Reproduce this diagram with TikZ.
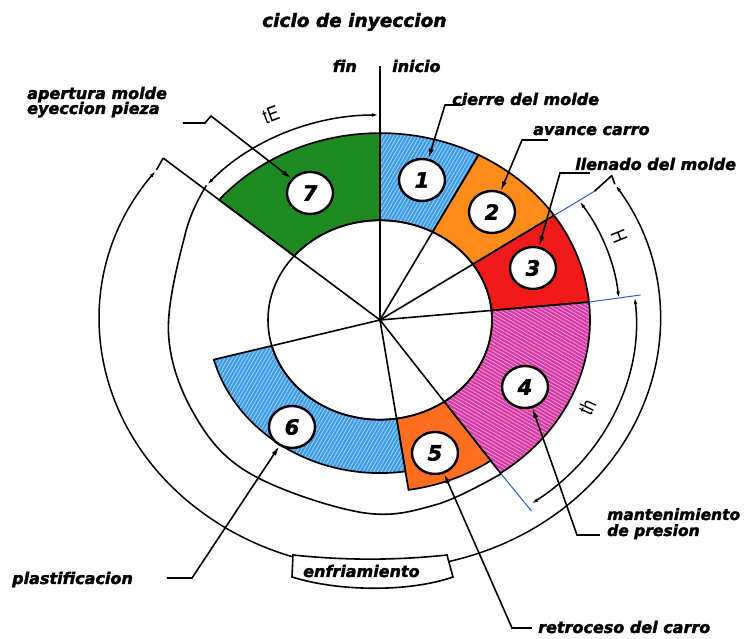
\documentclass[tikz,border=0pt]{standalone}
\usepackage{fontspec}
\usetikzlibrary{shapes.geometric,arrows.meta,patterns.meta}
\newfontfamily\lblfont{DejaVu Sans Bold Oblique}[FakeBold=2]
\newfontfamily\techfont{Liberation Sans}
\definecolor{cblue}{HTML}{3C9CEB}
\definecolor{cbluel}{HTML}{A4D3F7}
\definecolor{corange}{HTML}{FF8C1A}
\definecolor{corangeb}{HTML}{FF6F1F}
\definecolor{cred}{HTML}{F01A1A}
\definecolor{cpink}{HTML}{D43AA5}
\definecolor{cpinkl}{HTML}{F39AD6}
\definecolor{cgreen}{HTML}{1E8B22}
\definecolor{extblue}{HTML}{2A5BD7}
\newcommand\ringseg[5]{%
  \pgfmathsetmacro\ryA{0.89*#4}%
  \pgfmathsetmacro\ryB{0.89*#5}%
  \path[#1] ({#4*cos(#2)},{\ryA*sin(#2)}) arc[start angle=#2,end angle=#3,x radius=#4,y radius=\ryA]
    -- ({#5*cos(#3)},{\ryB*sin(#3)}) arc[start angle=#3,end angle=#2,x radius=#5,y radius=\ryB] -- cycle;}
\begin{document}
\begin{tikzpicture}[x=1pt,y=1pt,
  solidseg/.style={fill=#1,draw=black,line width=1.7pt},
  hatchblue/.style={preaction={fill=cblue},preaction={pattern={Lines[angle=60,distance=3.2pt,line width=0.8pt]},pattern color=cbluel},draw=black,line width=1.7pt},
  hatchpink/.style={preaction={fill=cpink},preaction={pattern={Lines[angle=-30,distance=3.2pt,line width=0.8pt]},pattern color=cpinkl},draw=black,line width=1.7pt},
  thinline/.style={line width=1.6pt},
  extline/.style={draw=extblue,line width=1pt},
  dimarc/.style={line width=1.5pt,{Latex[length=8pt,width=3.5pt]}-{Latex[length=8pt,width=3.5pt]}},
  leader/.style={line width=1.6pt,-{Latex[length=10pt,width=5pt]}},
  num/.style={ellipse,draw=black,line width=2.4pt,fill=white,minimum width=46pt,minimum height=42pt,inner sep=0pt,font=\lblfont\fontsize{21}{21}\selectfont},
  lbl/.style={inner sep=0pt,font=\lblfont\fontsize{16}{16}\selectfont},
  tech/.style={inner sep=0pt,font=\techfont\fontsize{21}{21}\selectfont}]
\useasboundingbox (-380,-319) rectangle (365,320);
% ring segments
\ringseg{hatchblue}{62}{90}{112}{210}
\ringseg{solidseg=corange}{34}{62}{112}{210}
\ringseg{solidseg=cred}{5.5}{34}{112}{210}
\ringseg{hatchpink}{-55}{5.5}{112}{210}
\ringseg{solidseg=corangeb}{-81.5}{-55}{112}{193}
\ringseg{hatchblue}{195}{278.5}{112}{172}
\ringseg{solidseg=cgreen}{90}{140}{112}{210}
% inner circle and radial lines
\draw[thinline] (0,0) ellipse[x radius=112,y radius=99.7];
\foreach \a in {62,34,5.5,-55,-81.5,195}
  \draw[thinline] (0,0) -- ({112*cos(\a)},{99.7*sin(\a)});
\coordinate (ctr) at (0,0);
\coordinate (topend) at (0,254);
\coordinate (apexL) at (-216.8,161.9);
\coordinate (apexR) at (231.8,144.5);
\draw[thinline] (ctr) -- (topend);
\draw[thinline] (ctr) -- (apexL);
% extension lines
\coordinate (e1a) at (174.1,104.5); \coordinate (e1b) at (214.7,128.9);
\coordinate (e2a) at (209.0,17.9);  \coordinate (e2b) at (260.5,25);
\coordinate (e3a) at (120.5,-153.1); \coordinate (e3b) at (151.5,-191.0);
\draw[extline] (e1a) -- (e1b);
\draw[extline] (e2a) -- (e2b);
\draw[extline] (e3a) -- (e3b);
\draw[thinline] (e1b) -- (apexR);
% circle B lower arc
\draw[thinline] plot[smooth,tension=0.6] coordinates {(121.0,-153.8) (55.6,-184.8) (-18.9,-192.4) (-130.0,-153.5) (-185.3,-95.2) (-211.5,-13.2) (-194.2,88.1) (-173.6,134.5)};
% dimension arcs
\draw[dimarc] (-173.6,134.5) arc[start angle=139,end angle=90,x radius=230,y radius=205];
\draw[dimarc] (199.0,119.4) arc[start angle=34,end angle=5.5,x radius=240,y radius=213.6];
\draw[dimarc] (254.6,23.8) arc[start angle=6,end angle=-54,x radius=256,y radius=227.8];
\draw[dimarc] (-223.6,150.0) arc[start angle=143,end angle=393,x radius=280,y radius=249.2];
\coordinate (oL) at (-223.6,150.0);
\coordinate (oR) at (234.8,135.7);
\draw[thinline] (apexL) -- (oL);
\draw[thinline] (apexR) -- (oR);
% enfriamiento box
\draw[line width=1.6pt,fill=white] (-87,-235) .. controls (-35,-240.5) and (15,-240.5) .. (67,-235)
  -- (73,-257) .. controls (30,-272) and (-40,-272) .. (-88,-257) -- cycle;
\node[lbl,anchor=base west] (enf) at (-77,-257) {enfriamiento};
% numbered circles
\node[num] (c1) at (42,140) {1};
\node[num] (c2) at (112,108) {2};
\node[num] (c3) at (153,52) {3};
\node[num] (c4) at (145,-67) {4};
\node[num] (c5) at (55,-133) {5};
\node[num] (c6) at (-88,-107) {6};
\node[num] (c7) at (-70,127) {7};
% leaders
\coordinate (l1a) at (65,215); \coordinate (l1b) at (83,215);
\coordinate (l2a) at (142,180); \coordinate (l2b) at (168,180);
\coordinate (l3a) at (180,147); \coordinate (l3b) at (210,147);
\coordinate (l4a) at (197,-215); \coordinate (l4b) at (220,-215);
\coordinate (l5a) at (132,-308); \coordinate (l5b) at (152,-308);
\coordinate (l6a) at (-188,-258); \coordinate (l6b) at (-213,-258);
\coordinate (l7a) at (-169,204); \coordinate (l7b) at (-175,197); \coordinate (l7c) at (-197,197);
\draw[leader] (l1b) -- (l1a) -- (c1);
\draw[leader] (l2b) -- (l2a) -- (c2);
\draw[leader] (l3b) -- (l3a) -- (c3);
\draw[leader] (l4b) -- (l4a) -- (c4);
\draw[leader] (l5b) -- (l5a) -- (c5);
\draw[leader] (l6b) -- (l6a) -- (c6);
\draw[leader] (l7c) -- (l7b) -- (l7a) -- (c7);
% labels
\node[inner sep=0pt,font=\lblfont\fontsize{18.5}{18.5}\selectfont,anchor=base west] (title) at (-118,293) {ciclo de inyeccion};
\node[lbl,anchor=base east] (fin) at (-23,248) {fin};
\node[lbl,anchor=base west] (inicio) at (12,248) {inicio};
\node[lbl,anchor=base west] (ap1) at (-353,221) {apertura molde};
\node[lbl,anchor=base west] (ap2) at (-353,206) {eyeccion pieza};
\node[lbl,anchor=base west] (t1) at (72,215) {cierre del molde};
\node[lbl,anchor=base west] (t2) at (153,185) {avance carro};
\node[lbl,anchor=base west] (t3) at (195,150) {llenado del molde};
\node[lbl,anchor=base west,font=\lblfont\fontsize{15.5}{15.5}\selectfont] (t4a) at (227,-200) {mantenimiento};
\node[lbl,anchor=base west,font=\lblfont\fontsize{15.5}{15.5}\selectfont] (t4b) at (227,-216) {de presion};
\node[lbl,anchor=base west] (t5) at (158,-313) {retroceso del carro};
\node[lbl,anchor=base west] (t6) at (-368,-264) {plastificacion};
\node[tech,rotate=20] (tE) at (-109,205) {\scalebox{0.8}[1]{tE}};
\node[tech,rotate=-68] (tH) at (239,84) {\scalebox{0.8}[1]{H}};
\node[tech,rotate=65] (th) at (207,-87) {\scalebox{0.8}[1]{th}};
\end{tikzpicture}
\end{document}
